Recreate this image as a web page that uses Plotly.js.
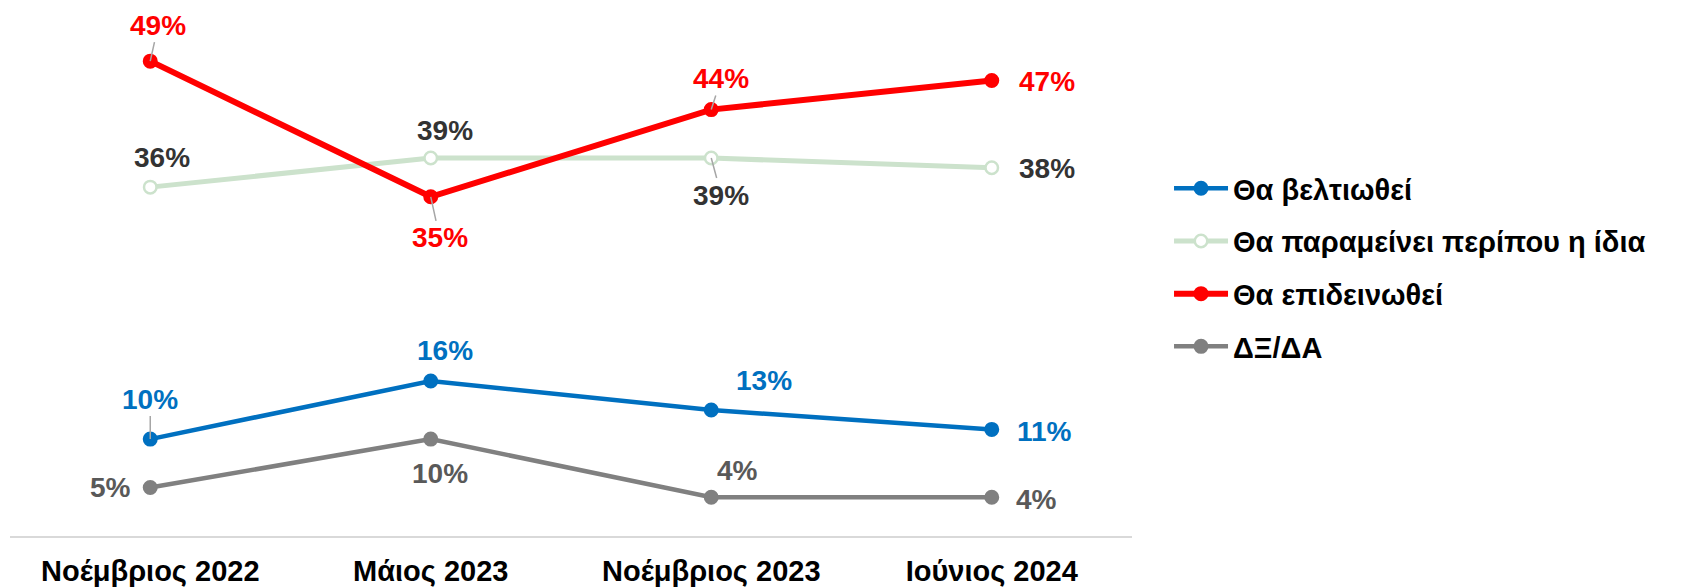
<!DOCTYPE html>
<html>
<head>
<meta charset="utf-8">
<script src="https://cdn.plot.ly/plotly-3.0.1.min.js"></script>
<style>
  html, body { margin: 0; padding: 0; background: #ffffff; }
  #chart { width: 1689px; height: 587px; }
</style>
</head>
<body>
<div id="chart"></div>
<script>
// ---- data ----
const categories = ['Νοέμβριος 2022', 'Μάιος 2023', 'Νοέμβριος 2023', 'Ιούνιος 2024'];
const seriesNames = ['Θα βελτιωθεί', 'Θα παραμείνει περίπου η ίδια', 'Θα επιδεινωθεί', 'ΔΞ/ΔΑ'];
const improve = [10, 16, 13, 11];
const same = [36, 39, 39, 38];
const worse = [49, 35, 44, 47];
const dkna = [5, 10, 4, 4];

// ---- styling ----
const FONT = '"Liberation Sans", Arial, sans-serif';
const series = [
  { y: improve, name: seriesNames[0], line: '#0070C0', width: 4.5, mfill: '#0070C0', mline: '#0070C0', label: '#0070C0' },
  { y: same,    name: seriesNames[1], line: '#CCE2CC', width: 5,   mfill: '#FFFFFF', mline: '#CCE2CC', label: '#333333' },
  { y: worse,   name: seriesNames[2], line: '#FF0000', width: 6,   mfill: '#FF0000', mline: '#FF0000', label: '#FF0000' },
  { y: dkna,    name: seriesNames[3], line: '#808080', width: 4.5, mfill: '#808080', mline: '#808080', label: '#595959' }
];
// label offsets in pixels [dx, dy(down positive), leader]
const labelOffsets = [
  [[0, -40, true], [14, -30, false], [53, -30, false], [53, 2, false]],
  [[12, -30, false], [14, -28, false], [10, 37, true], [55, 1, false]],
  [[8, -36, true], [9, 41, true], [10, -31, true], [55, 1, false]],
  [[-40, 0, false], [9, 34, false], [26, -27, false], [45, 2, false]]
];

const traces = series.map((s, i) => ({
  type: 'scatter',
  mode: 'lines+markers',
  x: categories,
  y: s.y,
  name: s.name,
  legendgroup: 'g' + i,
  line: { color: s.line, width: s.width },
  marker: { size: 12.5, color: s.mfill, line: { color: s.mline, width: 2.5 } },
  hoverinfo: 'skip'
}));

const annotations = [];
series.forEach((s, i) => {
  s.y.forEach((v, j) => {
    const [dx, dy, leader] = labelOffsets[i][j];
    const a = {
      x: categories[j], y: v, xref: 'x', yref: 'y',
      text: v + '%',
      font: { family: FONT, size: 28, color: s.label, weight: 'bold' }
    };
    if (leader) {
      Object.assign(a, { showarrow: true, ax: dx, ay: dy, arrowhead: 0, arrowwidth: 1.5, arrowcolor: '#A6A6A6', standoff: 0 });
    } else {
      Object.assign(a, { showarrow: false, xshift: dx, yshift: -dy });
    }
    annotations.push(a);
  });
});

const layout = {
  width: 1689, height: 587,
  margin: { l: 10, r: 557, t: 3, b: 51 },
  paper_bgcolor: '#ffffff', plot_bgcolor: '#ffffff',
  showlegend: true,
  legend: {
    x: 1.033, xanchor: 'left', y: 0.70, yanchor: 'top',
    font: { family: FONT, size: 29, color: '#000000', weight: 'bold' },
    traceorder: 'grouped', tracegroupgap: 12, itemwidth: 54,
    bgcolor: 'rgba(0,0,0,0)'
  },
  xaxis: {
    type: 'category', range: [-0.5, 3.5],
    showline: true, linecolor: '#D9D9D9', linewidth: 2,
    showgrid: false, zeroline: false, ticks: '', ticklabelstandoff: 8,
    tickfont: { family: FONT, size: 29, color: '#000000', weight: 'bold' },
    fixedrange: true
  },
  yaxis: {
    range: [0, 55], visible: false, showgrid: false, zeroline: false, fixedrange: true
  },
  annotations: annotations
};

Plotly.newPlot('chart', traces, layout, { displayModeBar: false, staticPlot: true });
</script>
</body>
</html>
